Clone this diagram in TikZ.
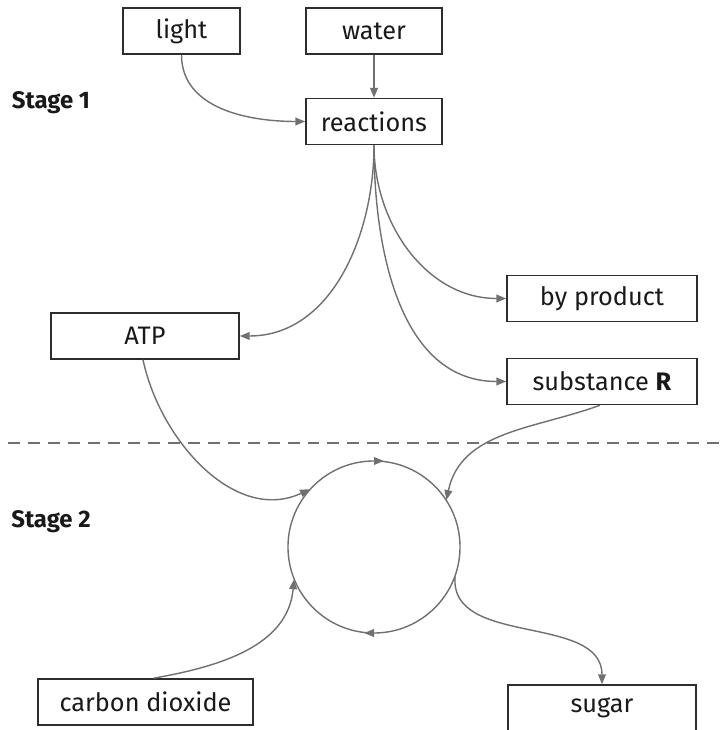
\documentclass[tikz,border=0pt]{standalone}
\usepackage{fontspec}
\setmainfont{Fira Sans}
\usepackage{xcolor}
\usetikzlibrary{positioning,arrows.meta,decorations.markings}

\definecolor{linegray}{RGB}{112,112,112}
\definecolor{boxline}{RGB}{45,45,45}
\definecolor{inkdark}{RGB}{25,25,25}

\begin{document}
\begin{tikzpicture}[
  x=0.025cm, y=0.025cm,
  >={Triangle[length=7pt,width=5.5pt]},
  every node/.style={font=\fontsize{18}{21}\selectfont, text=inkdark},
  box/.style={draw=boxline, line width=1.1pt, minimum height=1.15cm, inner sep=2pt},
  stage/.style={font=\fontsize{17}{20}\selectfont\bfseries},
  arrow/.style={->, draw=linegray, line width=1pt},
  cyclemarks/.style={postaction={decorate}, decoration={markings,
    mark=at position 0.25 with {\arrow{<}},
    mark=at position 0.75 with {\arrow{<}}}}
]
\useasboundingbox (0,0) rectangle (725,730);

\node[box, minimum width=2.925cm] (light) at (181.5,699) {light};
\node[box, minimum width=3.4cm] (water) at (374,699) {water};
\node[box, minimum width=3.4cm] (reactions) at (374,608.5) {reactions};
\node[box, minimum width=4.75cm] (byproduct) at (602,431.5) {by product};
\node[box, minimum width=4.75cm] (substR) at (602,348.5) {substance \textbf{R}};
\node[box, minimum width=4.7cm] (ATP) at (145,394) {ATP};
\node[box, minimum width=5.375cm] (co2) at (145.5,28) {carbon dioxide};
\node[box, minimum width=4.7cm] (sugar) at (602,22) {sugar};
\node[circle, minimum size=4.3cm, inner sep=0pt] (cycle) at (374,183) {};

\node[stage] (stage1) at (51,627) {Stage 1};
\node[stage] (stage2) at (51,208) {Stage 2};

\draw[linegray, line width=1pt, dash pattern=on 8.5pt off 5.7pt] (8,287) -- (725,287);

\draw[linegray, line width=1pt, cyclemarks] (cycle.center) circle[radius=2.15cm];

\draw[arrow] (light.south) to[out=-90, in=180] (reactions.west);
\draw[arrow] (water) -- (reactions);
\draw[arrow] (reactions.south) to[out=-90, in=0] (ATP.east);
\draw[arrow] (reactions.south) to[out=-90, in=180] (byproduct.west);
\draw[arrow] (reactions.south) to[out=-90, in=180] (substR.west);
\draw[arrow] ([xshift=-0.05cm]ATP.south) to[out=-78, in=205] (cycle.138);
\draw[arrow] ([xshift=-0.05cm]substR.south) to[out=200, in=78] (cycle.33);
\draw[arrow] ([xshift=0.2cm]co2.north) to[out=10, in=-95] (cycle.202);
\draw[arrow] (cycle.-20) to[out=-95, in=90] (sugar.north);
\end{tikzpicture}
\end{document}
